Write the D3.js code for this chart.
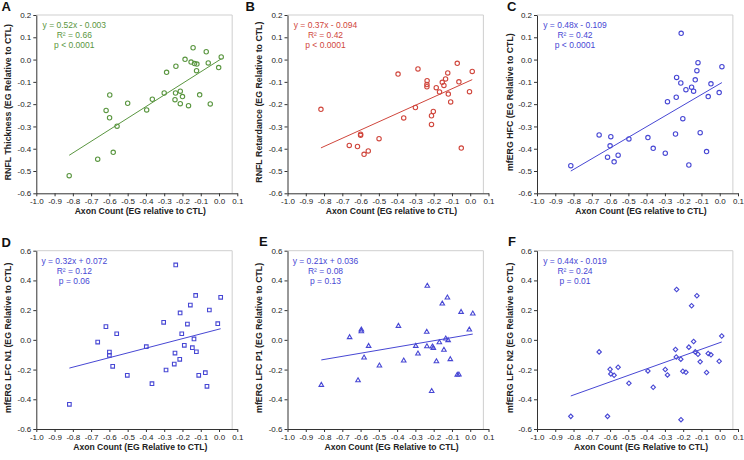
<!DOCTYPE html>
<html><head><meta charset="utf-8">
<script src="https://cdn.jsdelivr.net/npm/d3@7"></script>
<style>
body{margin:0;background:#fff}
svg{display:block}
text{font-family:"Liberation Sans",Arial,sans-serif}
</style>
</head><body>
<svg id="chart" width="744" height="460"></svg>
<script>
// ---------- DATA ----------
const xTicks = [-1.0,-0.9,-0.8,-0.7,-0.6,-0.5,-0.4,-0.3,-0.2,-0.1,0.0,0.1];
const yTicksTop = [0.2,0.1,0.0,-0.1,-0.2,-0.3,-0.4,-0.5,-0.6];
const yTicksBottom = [0.6,0.4,0.2,0.0,-0.2,-0.4,-0.6];

// Panel A: RNFL Thickness
const thicknessX = [-0.820,-0.664,-0.618,-0.598,-0.599,-0.579,-0.558,-0.500,-0.396,-0.365,-0.300,-0.287,-0.236,-0.238,-0.241,-0.212,-0.212,-0.200,-0.186,-0.167,-0.153,-0.142,-0.134,-0.121,-0.123,-0.106,-0.070,-0.059,-0.048,-0.002,0.012];
const thicknessY = [-0.521,-0.447,-0.228,-0.159,-0.261,-0.416,-0.299,-0.196,-0.226,-0.178,-0.150,-0.057,-0.030,-0.150,-0.180,-0.142,-0.198,-0.166,0.001,-0.207,-0.011,0.053,-0.018,-0.020,-0.050,-0.158,0.035,-0.015,-0.199,-0.036,0.012];

// Panel B: RNFL Retardance
const retardanceX = [-0.817,-0.662,-0.617,-0.600,-0.600,-0.581,-0.558,-0.499,-0.395,-0.364,-0.300,-0.286,-0.236,-0.237,-0.237,-0.212,-0.212,-0.202,-0.186,-0.168,-0.153,-0.144,-0.135,-0.123,-0.120,-0.107,-0.071,-0.062,-0.049,-0.004,0.011];
const retardanceY = [-0.223,-0.385,-0.390,-0.340,-0.335,-0.425,-0.410,-0.355,-0.065,-0.262,-0.215,-0.042,-0.095,-0.112,-0.122,-0.252,-0.291,-0.233,-0.126,-0.145,-0.102,-0.116,-0.087,-0.060,-0.155,-0.190,-0.017,-0.100,-0.397,-0.144,-0.053];

// Panel C: mfERG HFC
const hfcX = [-0.815,-0.660,-0.614,-0.596,-0.600,-0.578,-0.556,-0.497,-0.393,-0.364,-0.298,-0.286,-0.236,-0.238,-0.242,-0.211,-0.213,-0.202,-0.185,-0.169,-0.154,-0.143,-0.134,-0.125,-0.119,-0.107,-0.072,-0.063,-0.048,-0.003,0.012];
const hfcY = [-0.476,-0.338,-0.438,-0.346,-0.387,-0.459,-0.429,-0.356,-0.350,-0.398,-0.420,-0.189,-0.080,-0.169,-0.334,0.118,-0.105,-0.265,-0.135,-0.473,-0.124,-0.142,-0.091,-0.050,-0.014,-0.328,-0.413,-0.166,-0.109,-0.148,-0.032];

// Panel D: mfERG LFC N1
const n1X = [-0.819,-0.664,-0.619,-0.600,-0.600,-0.582,-0.560,-0.502,-0.398,-0.367,-0.303,-0.290,-0.237,-0.241,-0.245,-0.213,-0.215,-0.204,-0.190,-0.173,-0.157,-0.146,-0.137,-0.128,-0.124,-0.111,-0.075,-0.066,-0.053,-0.007,0.009];
const n1Y = [-0.434,-0.015,0.089,-0.082,-0.104,-0.178,0.041,-0.239,-0.046,-0.295,0.118,-0.203,0.504,-0.089,-0.163,0.181,-0.131,0.041,-0.037,0.106,0.234,-0.053,0.006,0.299,-0.080,-0.239,-0.221,-0.313,0.201,0.109,0.286];

// Panel E: mfERG LFC P1
const p1X = [-0.815,-0.660,-0.614,-0.596,-0.596,-0.581,-0.556,-0.497,-0.393,-0.364,-0.298,-0.286,-0.235,-0.238,-0.237,-0.211,-0.207,-0.202,-0.185,-0.169,-0.153,-0.144,-0.134,-0.125,-0.121,-0.109,-0.071,-0.062,-0.050,-0.005,0.014];
const p1Y = [-0.304,0.017,-0.273,0.068,0.057,-0.120,-0.042,-0.174,0.093,-0.140,-0.042,-0.093,0.363,0.053,-0.044,-0.345,-0.046,-0.055,-0.145,-0.017,0.243,-0.068,0.008,0.284,-0.003,-0.131,-0.236,-0.234,0.187,0.068,0.176];

// Panel F: mfERG LFC N2
const n2X = [-0.815,-0.660,-0.614,-0.600,-0.596,-0.578,-0.556,-0.497,-0.393,-0.364,-0.298,-0.286,-0.236,-0.242,-0.238,-0.212,-0.213,-0.202,-0.185,-0.169,-0.154,-0.143,-0.134,-0.125,-0.119,-0.107,-0.072,-0.063,-0.048,-0.003,0.011];
const n2Y = [-0.515,-0.081,-0.515,-0.198,-0.229,-0.238,-0.184,-0.292,-0.209,-0.319,-0.200,-0.236,0.339,-0.065,-0.115,-0.537,-0.130,-0.211,-0.218,-0.049,0.229,-0.011,-0.081,0.297,-0.097,-0.148,-0.220,-0.092,-0.101,-0.144,0.026];

const panelLetters = ["A","B","C","D","E","F"];
const yTitles = ["RNFL Thickness (EG Relative to CTL)","RNFL Retardance (EG Relative to CTL)","mfERG HFC (EG Relative to CTL)","mfERG LFC N1 (EG Relative to CTL)","mfERG LFC P1 (EG Relative to CTL)","mfERG LFC N2 (EG Relative to CTL)"];
const xTitles = ["Axon Count (EG relative to CTL)","Axon Count (EG relative to CTL)","Axon Count (EG relative to CTL)","Axon Count (EG Relative to CTL)","Axon Count (EG Relative to CTL)","Axon Count (EG Relative to CTL)"];
const slopes = [0.52,0.37,0.48,0.32,0.21,0.44];
const intercepts = [-0.003,-0.094,-0.109,0.072,0.036,-0.019];
const eqTexts = ["y = 0.52x - 0.003","y = 0.37x - 0.094","y = 0.48x - 0.109","y = 0.32x + 0.072","y = 0.21x + 0.036","y = 0.44x - 0.019"];
const r2Texts = ["0.66","0.42","0.42","0.12","0.08","0.24"];
const pTexts = ["p < 0.0001","p < 0.0001","p < 0.0001","p = 0.06","p = 0.13","p = 0.01"];

// ---------- STYLE / LAYOUT ----------
const GREEN = "#5a9640", RED = "#d0463c", BLUE = "#4747d4";
const panels = [
  {xs:thicknessX, ys:thicknessY, yDom:[-0.6,0.2], yTicks:yTicksTop, color:GREEN, shape:"circle", left:36.3, top:15, bottom:193.3},
  {xs:retardanceX, ys:retardanceY, yDom:[-0.6,0.2], yTicks:yTicksTop, color:RED, shape:"circle", left:287.5, top:15, bottom:193.3},
  {xs:hfcX, ys:hfcY, yDom:[-0.6,0.2], yTicks:yTicksTop, color:BLUE, shape:"circle", left:537, top:15, bottom:193.3},
  {xs:n1X, ys:n1Y, yDom:[-0.6,0.6], yTicks:yTicksBottom, color:BLUE, shape:"square", left:36.3, top:250.7, bottom:429},
  {xs:p1X, ys:p1Y, yDom:[-0.6,0.6], yTicks:yTicksBottom, color:BLUE, shape:"triangle", left:287.5, top:250.7, bottom:429},
  {xs:n2X, ys:n2Y, yDom:[-0.6,0.6], yTicks:yTicksBottom, color:BLUE, shape:"diamond", left:537, top:250.7, bottom:429}
];
const letterPos = [[1.5,10.5],[245.5,10.5],[507,10.5],[1.5,247],[259,246],[508,246]];
const yTitleX = [7.5,259,509.5,7.5,259,509.5];
const PW = 201;

const fmt = d => (Math.abs(d) < 1e-9 ? "0.0" : d.toFixed(1));
const svg = d3.select("#chart");

panels.forEach((p, i) => {
  const x = d3.scaleLinear().domain([-1.0, 0.1]).range([p.left, p.left + PW]);
  const y = d3.scaleLinear().domain(p.yDom).range([p.bottom, p.top]);
  const g = svg.append("g");

  // light frame (top & right)
  g.append("path")
    .attr("d", `M${p.left},${p.top}H${x(0.072)}V${p.bottom}`)
    .attr("fill","none").attr("stroke","#cfcfcf").attr("stroke-width",1);

  // axes
  const xa = g.append("g").attr("transform",`translate(0,${p.bottom})`)
    .call(d3.axisBottom(x).tickValues(xTicks).tickFormat(fmt).tickSize(3).tickSizeOuter(0).tickPadding(2));
  const ya = g.append("g").attr("transform",`translate(${p.left},0)`)
    .call(d3.axisLeft(y).tickValues(p.yTicks).tickFormat(fmt).tickSize(3).tickSizeOuter(0).tickPadding(2));
  [xa, ya].forEach(a => {
    a.selectAll("path,line").attr("stroke","#333");
    a.selectAll("text").attr("fill","#222").style("font-size","8px").style("font-family","'Liberation Sans',Arial,sans-serif");
  });

  // regression line
  const ext = d3.extent(p.xs);
  g.append("line")
    .attr("x1", x(ext[0])).attr("y1", y(slopes[i]*ext[0] + intercepts[i]))
    .attr("x2", x(ext[1])).attr("y2", y(slopes[i]*ext[1] + intercepts[i]))
    .attr("stroke", p.color).attr("stroke-width", 1);

  // markers
  const pts = p.xs.map((v, k) => [v, p.ys[k]]);
  const mk = g.append("g").attr("fill","none").attr("stroke",p.color).attr("stroke-width",1.1);
  if (p.shape === "circle") {
    mk.selectAll("circle").data(pts).join("circle")
      .attr("cx", d => x(d[0])).attr("cy", d => y(d[1])).attr("r", 2.2);
  } else {
    let sym, rot = 0, size;
    if (p.shape === "square") { sym = d3.symbolSquare; size = 13; }
    else if (p.shape === "triangle") { sym = d3.symbolTriangle; size = 9; }
    else { sym = d3.symbolSquare; size = 10; rot = 45; }
    const gen = d3.symbol().type(sym).size(size);
    mk.selectAll("path").data(pts).join("path")
      .attr("d", gen)
      .attr("transform", d => `translate(${x(d[0])},${y(d[1])}) rotate(${rot})`);
  }

  // annotation
  const cx = p.left + 38, ty = p.top + 10;
  const ann = g.append("g").attr("fill", p.color).style("font-size","8.5px").attr("text-anchor","middle");
  ann.append("text").attr("x",cx).attr("y",ty).attr("dy","0.35em").text(eqTexts[i]);
  ann.append("text").attr("x",cx).attr("y",ty+10).attr("dy","0.35em").text("R² = " + r2Texts[i]);
  ann.append("text").attr("x",cx).attr("y",ty+20).attr("dy","0.35em").text(pTexts[i]);

  // titles
  g.append("text").attr("x", p.left + PW/2 + 3.5).attr("y", p.bottom + 18).attr("dy","0.35em")
    .attr("text-anchor","middle").style("font-size","8.6px").style("font-weight","bold").attr("fill","#222")
    .text(xTitles[i]);
  const yc = (p.top + p.bottom)/2 - 2;
  g.append("text").attr("transform",`translate(${yTitleX[i]},${yc}) rotate(-90)`).attr("dy","0.35em")
    .attr("text-anchor","middle").style("font-size","8.8px").style("font-weight","bold").attr("fill","#222")
    .text(yTitles[i]);

  // panel letter
  svg.append("text").attr("x", letterPos[i][0]).attr("y", letterPos[i][1])
    .style("font-size","13px").style("font-weight","bold").attr("fill","#111").text(panelLetters[i]);
});
</script>
</body></html>
